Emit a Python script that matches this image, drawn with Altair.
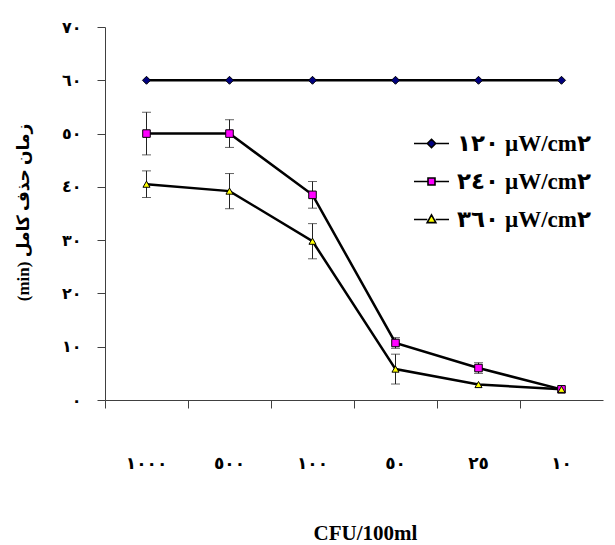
import altair as alt
import pandas as pd

# ---- data ----
categories = ["١٠٠٠", "٥٠٠", "١٠٠", "٥٠", "٢٥", "١٠"]
series_names = ["١٢٠ µW/cm٢", "٢٤٠ µW/cm٢", "٣٦٠ µW/cm٢"]
values_120 = [60, 60, 60, 60, 60, 60]
values_240 = [50.0, 50.0, 38.5, 10.7, 6.0, 2.0]
errors_240 = [4.0, 2.6, 2.5, 1.0, 1.0, 0.0]
values_360 = [40.5, 39.2, 29.8, 5.8, 2.9, 2.0]
errors_360 = [2.5, 3.3, 3.3, 2.8, 0.0, 0.0]
y_ticks = [0, 10, 20, 30, 40, 50, 60, 70]
y_tick_labels = ["٠", "١٠", "٢٠", "٣٠", "٤٠", "٥٠", "٦٠", "٧٠"]
fill_colors = ["#000080", "#FF00FF", "#FFFF00"]
outline_colors = ["#000000", "#000000", "#000000"]
marker_shapes = ["diamond", "square", "triangle-up"]
marker_sizes = [64, 50, 64]
legend_paths = [
    "M-1,0H-0.24M0.24,0H1M0,-0.24L0.24,0L0,0.24L-0.24,0Z",
    "M-1,0H-0.2M0.2,0H1M-0.2,-0.2H0.2V0.2H-0.2Z",
    "M-1,0H-0.24M0.24,0H1M0,-0.26L0.25,0.18L-0.25,0.18Z",
]

all_values = [values_120, values_240, values_360]
all_errors = [[0] * 6, errors_240, errors_360]

rows, err_rows = [], []
for s, vals, errs in zip(series_names, all_values, all_errors):
    for i, (c, v, e) in enumerate(zip(categories, vals, errs)):
        rows.append({"series": s, "cfu": c, "idx": i, "value": v})
        if e > 0:
            err_rows.append({"series": s, "cfu": c, "lo": v - e, "hi": v + e})
df = pd.DataFrame(rows)
err_df = pd.DataFrame(err_rows)

FONT = "Liberation Serif, DejaVu Sans"
AR_FONT = "DejaVu Sans"
AX = "#404040"

x_axis = alt.Axis(
    title="CFU/100ml", bandPosition=0, labelPadding=47,
    labelAngle=0, labelFont=AR_FONT, labelFontSize=17, labelFontWeight="bold",
    labelColor="black", tickSize=8, tickColor=AX, domainColor=AX,
    titleFont=FONT, titleFontSize=21, titleFontWeight="bold", titleColor="black",
    titleX=260, titleY=139, titleBaseline="alphabetic", titleAlign="center",
    grid=False,
)
label_expr = "[" + ",".join("'" + t + "'" for t in y_tick_labels) + "][datum.value/10]"
y_axis = alt.Axis(
    title="(min) زمان حذف کامل", values=y_ticks, labelExpr=label_expr,
    labelFont=AR_FONT, labelFontSize=16, labelFontWeight="bold", labelColor="black",
    labelPadding=16, tickSize=8, tickColor=AX, domainColor=AX, grid=False,
    titleFont=FONT, titleFontSize=17, titleFontWeight="bold", titleColor="black",
    titleX=-82, titleY=185, titleAngle=-90, titleAlign="center", titleBaseline="middle",
)

x_enc = alt.X("cfu:N", sort=categories,
              scale=alt.Scale(type="band", domain=categories, paddingInner=0, paddingOuter=0),
              axis=x_axis)
y_scale = alt.Scale(domain=[0, 70], nice=False)

err_rule = alt.Chart(err_df).mark_rule(color="#222", strokeWidth=1).encode(
    x=x_enc, y=alt.Y("lo:Q", scale=y_scale, axis=y_axis), y2="hi:Q")
cap_hi = alt.Chart(err_df).mark_tick(color="#222", thickness=1, size=9).encode(
    x=x_enc, y=alt.Y("hi:Q", scale=y_scale, axis=y_axis))
cap_lo = alt.Chart(err_df).mark_tick(color="#222", thickness=1, size=9).encode(
    x=x_enc, y=alt.Y("lo:Q", scale=y_scale, axis=y_axis))

lines = alt.Chart(df).mark_line(color="black", strokeWidth=2.5).encode(
    x=x_enc, y=alt.Y("value:Q", scale=y_scale, axis=y_axis),
    detail="series:N", order="idx:Q")

points = alt.Chart(df).mark_point(filled=True, stroke="black", strokeWidth=1, opacity=1).encode(
    x=x_enc, y=alt.Y("value:Q", scale=y_scale, axis=y_axis),
    shape=alt.Shape("series:N", scale=alt.Scale(domain=series_names, range=marker_shapes), legend=None),
    fill=alt.Fill("series:N", scale=alt.Scale(domain=series_names, range=fill_colors), legend=None),
    size=alt.Size("series:N", scale=alt.Scale(domain=series_names, range=marker_sizes), legend=None),
)


def make_legend():
    return alt.Legend(
        title=None, orient="none", legendX=308, legendY=98, padding=0,
        symbolSize=1225, rowPadding=7, labelOffset=7,
        labelFont=FONT, labelFontSize=23, labelFontWeight="bold", labelColor="black",
        labelLimit=300, symbolOpacity=1, symbolStrokeColor="black", symbolStrokeWidth=1.6,
    )


# legend-only layer: no rows drawn, legend entries come from the explicit domains
legend_layer = alt.Chart(df).transform_filter("false").mark_point(
    filled=True, strokeWidth=1.6, size=1225
).encode(
    x=x_enc, y=alt.Y("value:Q", scale=y_scale, axis=y_axis),
    shape=alt.Shape("series:N", scale=alt.Scale(domain=series_names, range=legend_paths),
                    legend=make_legend()),
    fill=alt.Fill("series:N", scale=alt.Scale(domain=series_names, range=fill_colors),
                  legend=make_legend()),
    stroke=alt.Stroke("series:N", scale=alt.Scale(domain=series_names, range=outline_colors),
                      legend=make_legend()),
)

chart = alt.layer(err_rule, cap_hi, cap_lo, lines, points, legend_layer).resolve_scale(
    shape="independent", fill="independent", stroke="independent"
).properties(
    width=498, height=373,
    autosize=alt.AutoSizeParams(type="none"),
    padding={"left": 105, "top": 27, "right": 12, "bottom": 145},
    background="white",
).configure_view(stroke=None)

chart.save("out.html", embed_options={"renderer": "svg", "actions": False})
